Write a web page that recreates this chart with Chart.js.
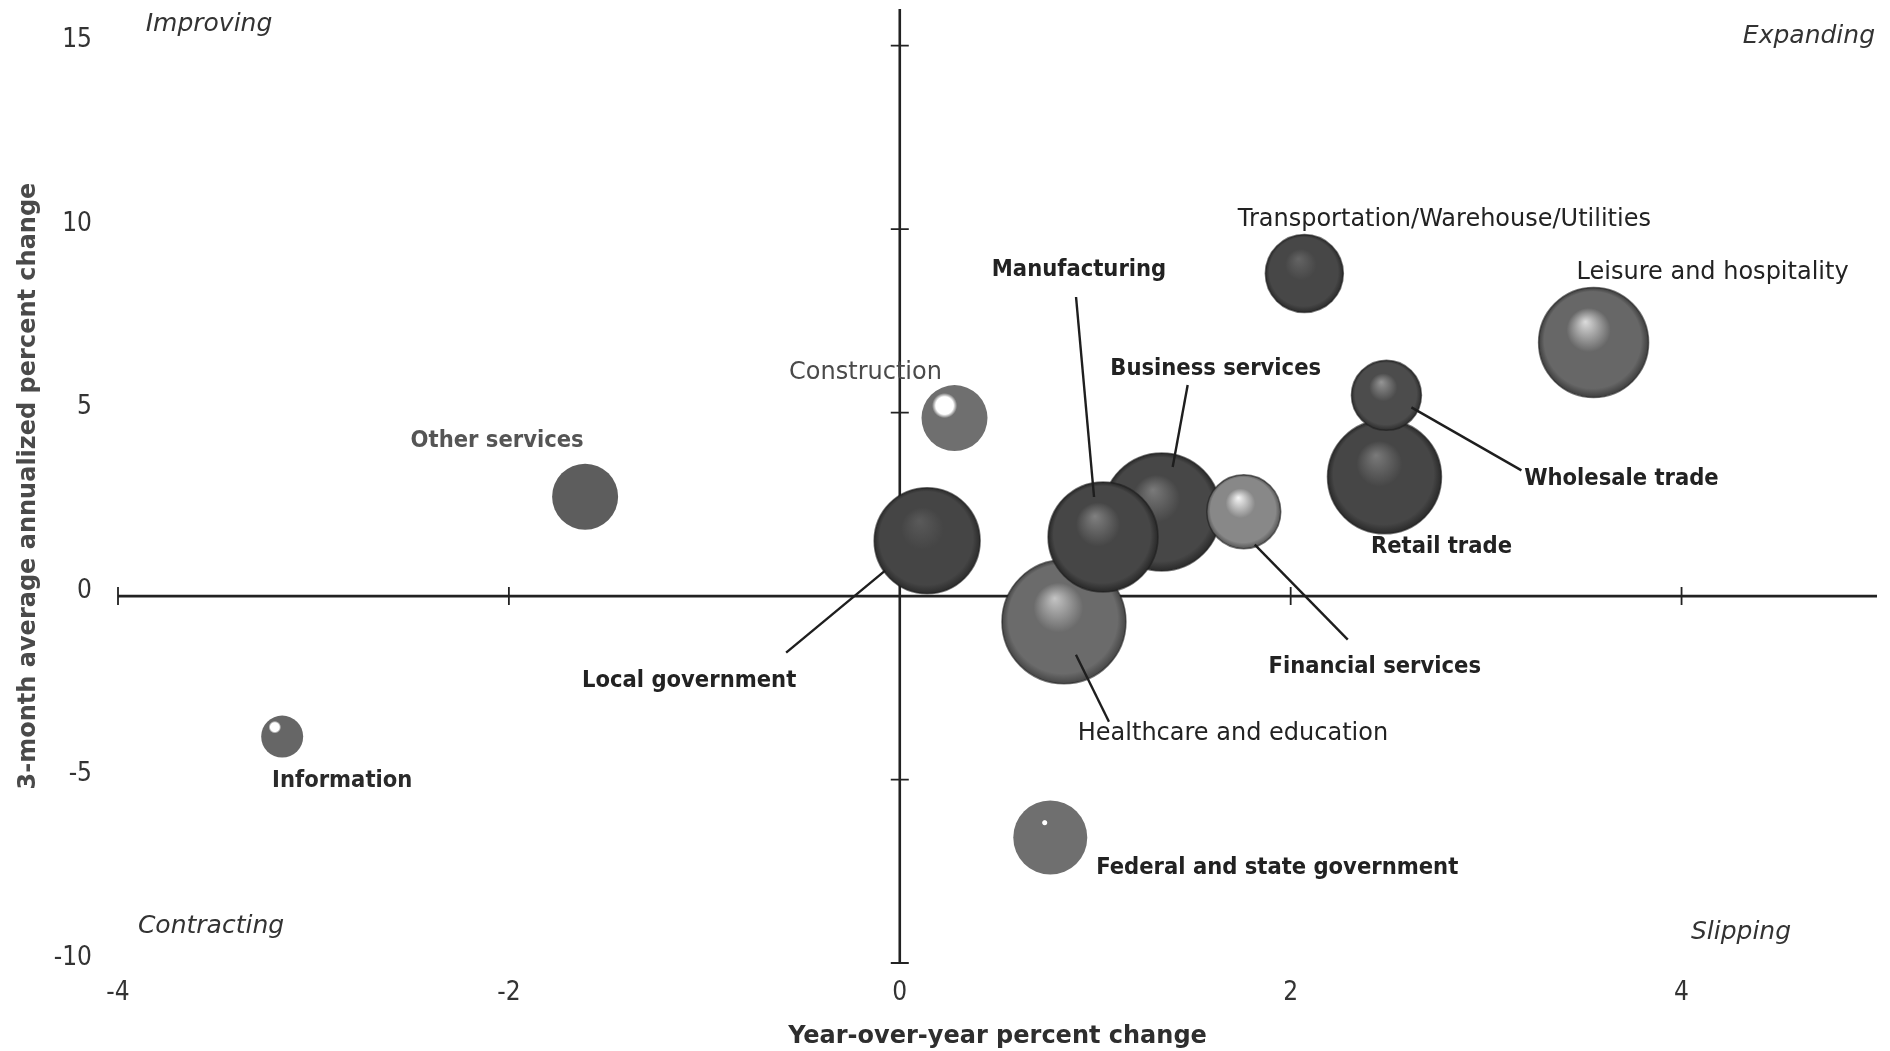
<!DOCTYPE html>
<html>
<head>
<meta charset="utf-8">
<title>Employment growth by sector</title>
<script src="https://cdn.jsdelivr.net/npm/chart.js@4.4.1/dist/chart.umd.min.js"></script>
<style>
  html, body { margin: 0; padding: 0; background: #ffffff; }
  #wrap { width: 1890px; height: 1051px; position: relative; }
</style>
</head>
<body>
<div id="wrap"><canvas id="chart" width="1890" height="1051"></canvas></div>
<script>
// Sector employment: year-over-year change (x) against 3-month average annualized change (y).
// Drawing order matters: later sectors are painted on top of earlier ones.
const sectors = [
  'Information',
  'Other services',
  'Construction',
  'Local government',
  'Transportation/Warehouse/Utilities',
  'Leisure and hospitality',
  'Retail trade',
  'Wholesale trade',
  'Healthcare and education',
  'Business services',
  'Manufacturing',
  'Financial services',
  'Federal and state government'
];
const yoyChange        = [-3.16, -1.61, 0.28, 0.14, 2.07, 3.55, 2.48, 2.49, 0.84, 1.34, 1.04, 1.76, 0.77];
const threeMonthChange = [-3.83,  2.71, 4.85, 1.51, 8.79, 6.91, 3.25, 5.47, -0.70, 2.29, 1.61, 2.30, -6.58];
const bubbleSize       = [21, 33, 33, 53, 39, 55, 57, 35, 62, 59, 55, 37, 37];

const xTickValues = [-4, -2, 0, 2, 4];
const yTickValues = [-10, -5, 0, 5, 10, 15];
const quadrantNames = ['Improving', 'Expanding', 'Contracting', 'Slipping'];

const xTitle = 'Year-over-year percent change';
const yTitle = '3-month average annualized percent change';

// ---- presentation -------------------------------------------------------
const FONT_NARROW = "'DejaVu Sans Condensed', 'DejaVu Sans', sans-serif";
const FONT_WIDE = "'DejaVu Sans', sans-serif";

// sphere shading per sector; flat = plain disc with an optional glint [dx, dy, size] in radii
const shading = {
  'Information':                        { flat: true, body: '#666666', glint: [-0.35, -0.45, 0.30] },
  'Other services':                     { flat: true, body: '#5d5d5d', glint: null },
  'Construction':                       { flat: true, body: '#6f6f6f', glint: [-0.30, -0.38, 0.38] },
  'Federal and state government':       { flat: true, body: '#6f6f6f', glint: [-0.15, -0.40, 0.08] },
  'Local government':                   { hi: '#5a5a5a', body: '#454545', rim: '#2c2c2c' },
  'Transportation/Warehouse/Utilities': { hi: '#646464', body: '#474747', rim: '#2c2c2c' },
  'Leisure and hospitality':            { hi: '#dcdcdc', body: '#676767', rim: '#3e3e3e' },
  'Retail trade':                       { hi: '#7a7a7a', body: '#464646', rim: '#2a2a2a' },
  'Wholesale trade':                    { hi: '#959595', body: '#4c4c4c', rim: '#2e2e2e' },
  'Healthcare and education':           { hi: '#c4c4c4', body: '#6b6b6b', rim: '#464646' },
  'Business services':                  { hi: '#7a7a7a', body: '#474747', rim: '#2a2a2a' },
  'Manufacturing':                      { hi: '#808080', body: '#464646', rim: '#282828' },
  'Financial services':                 { hi: '#f6f6f6', body: '#888888', rim: '#555555' }
};

// label placement in pixels from the bubble centre; leader = [x1, y1, x2, y2] from the centre
const labelLayout = {
  'Information':                        { dx:  60, dy:  44, bold: true,  color: '#2a2a2a' },
  'Other services':                     { dx: -88, dy: -56, bold: true,  color: '#555555' },
  'Construction':                       { dx: -89, dy: -45, bold: false, color: '#4a4a4a' },
  'Local government':                   { dx: -238, dy: 140, bold: true, color: '#222222', leader: [-141, 112, -42, 30] },
  'Transportation/Warehouse/Utilities': { dx: 140, dy: -54, bold: false, color: '#222222' },
  'Leisure and hospitality':            { dx: 119, dy: -70, bold: false, color: '#222222' },
  'Retail trade':                       { dx:  57, dy:  70, bold: true,  color: '#222222' },
  'Wholesale trade':                    { dx: 235, dy:  84, bold: true,  color: '#222222', leader: [135, 75, 25, 12] },
  'Healthcare and education':           { dx: 169, dy: 112, bold: false, color: '#222222', leader: [45, 100, 12, 33] },
  'Business services':                  { dx:  54, dy: -143, bold: true, color: '#222222', leader: [26, -127, 11, -45] },
  'Manufacturing':                      { dx: -24, dy: -267, bold: true, color: '#222222', leader: [-27, -240, -9, -40] },
  'Financial services':                 { dx: 131, dy: 155, bold: true,  color: '#222222', leader: [104, 128, 11, 33] },
  'Federal and state government':       { dx: 227, dy:  30, bold: true,  color: '#222222' }
};

function bubbleFill(context) {
  const chart = context.chart;
  const raw = context.raw;
  if (!raw || !chart.chartArea || !chart.scales.x) return '#484848';
  const cx = chart.scales.x.getPixelForValue(raw.x);
  const cy = chart.scales.y.getPixelForValue(raw.y);
  const r = raw.r;
  const s = shading[raw.name];
  const ctx = chart.ctx;
  if (s.flat) {
    if (!s.glint) return s.body;
    const gx = cx + s.glint[0] * r, gy = cy + s.glint[1] * r, gr = s.glint[2] * r;
    const g = ctx.createRadialGradient(gx, gy, 0, gx, gy, r * 2);
    const k = gr / (r * 2);
    g.addColorStop(0, '#ffffff');
    g.addColorStop(k * 0.7, '#ffffff');
    g.addColorStop(k, s.body);
    g.addColorStop(1, s.body);
    return g;
  }
  const hx = cx - 0.15 * r, hy = cy - 0.38 * r;
  const g = ctx.createRadialGradient(hx, hy, 0, cx, cy, r);
  g.addColorStop(0, s.hi);
  g.addColorStop(0.4, s.body);
  g.addColorStop(0.88, s.body);
  g.addColorStop(1, s.rim);
  return g;
}

function bubbleEdge(context) {
  const raw = context.raw;
  if (!raw) return 'rgba(0,0,0,0)';
  return shading[raw.name].flat ? 'rgba(0,0,0,0)' : 'rgba(30,30,30,0.6)';
}

// zero axes with cross ticks, leader lines, sector and quadrant labels
const annotations = {
  id: 'sectorAnnotations',
  beforeDatasetsDraw(chart) {
    const { ctx, scales: { x, y } } = chart;
    const x0 = x.getPixelForValue(0);
    const y0 = y.getPixelForValue(0);
    const yBottom = y.getPixelForValue(yTickValues[0]);
    ctx.save();
    ctx.strokeStyle = '#222222';
    ctx.lineWidth = 2.6;
    ctx.beginPath();
    ctx.moveTo(x.left, y0); ctx.lineTo(x.right, y0);
    ctx.moveTo(x0, y.top); ctx.lineTo(x0, yBottom);
    ctx.stroke();
    ctx.lineWidth = 1.8;
    ctx.beginPath();
    xTickValues.forEach(v => {
      if (v === 0) return;
      const px = x.getPixelForValue(v);
      ctx.moveTo(px, y0 - 9); ctx.lineTo(px, y0 + 9);
    });
    yTickValues.forEach(v => {
      if (v === 0) return;
      const py = y.getPixelForValue(v);
      ctx.moveTo(x0 - 9, py); ctx.lineTo(x0 + 9, py);
    });
    ctx.stroke();
    ctx.restore();
  },
  afterDatasetsDraw(chart) {
    const { ctx, chartArea: area } = chart;
    const meta = chart.getDatasetMeta(0);
    ctx.save();
    // leader lines
    ctx.strokeStyle = '#1e1e1e';
    ctx.lineWidth = 2.4;
    meta.data.forEach((pt, i) => {
      const lay = labelLayout[sectors[i]];
      if (!lay.leader) return;
      const [a, b, c, d] = lay.leader;
      ctx.beginPath();
      ctx.moveTo(pt.x + a, pt.y + b);
      ctx.lineTo(pt.x + c, pt.y + d);
      ctx.stroke();
    });
    // sector names
    ctx.textAlign = 'center';
    ctx.textBaseline = 'middle';
    meta.data.forEach((pt, i) => {
      const lay = labelLayout[sectors[i]];
      ctx.font = lay.bold ? `bold 23.5px ${FONT_NARROW}` : `normal 24px ${FONT_WIDE}`;
      ctx.fillStyle = lay.color;
      ctx.fillText(sectors[i], pt.x + lay.dx, pt.y + lay.dy);
    });
    // quadrant names
    ctx.font = `italic 25px ${FONT_WIDE}`;
    ctx.fillStyle = '#333333';
    ctx.textAlign = 'center';
    ctx.fillText(quadrantNames[0], area.left + 91, area.top + 15);
    ctx.textAlign = 'right';
    ctx.fillText(quadrantNames[1], area.right - 2, area.top + 27);
    ctx.textAlign = 'center';
    ctx.fillText(quadrantNames[2], area.left + 93, area.bottom - 37);
    ctx.fillText(quadrantNames[3], area.right - 136, area.bottom - 31);
    ctx.restore();
  }
};

const points = sectors.map((name, i) => ({
  x: yoyChange[i],
  y: threeMonthChange[i],
  r: bubbleSize[i],
  name
}));

new Chart(document.getElementById('chart'), {
  type: 'bubble',
  data: {
    datasets: [{
      label: 'Sectors',
      data: points,
      backgroundColor: bubbleFill,
      borderColor: bubbleEdge,
      borderWidth: 1.5,
      hoverBorderWidth: 1.5,
      clip: false
    }]
  },
  options: {
    responsive: false,
    devicePixelRatio: 1,
    animation: false,
    events: [],
    layout: { autoPadding: false, padding: { top: 9, right: 13, bottom: 0, left: 0 } },
    plugins: { legend: { display: false }, tooltip: { enabled: false } },
    scales: {
      x: {
        type: 'linear',
        min: -4,
        max: 5,
        position: 'bottom',
        grid: { display: false, drawTicks: false },
        border: { display: false },
        afterBuildTicks: s => { s.ticks = xTickValues.map(v => ({ value: v })); },
        afterFit: s => { s.height = 88; s.paddingLeft = 0; s.paddingRight = 0; },
        ticks: {
          padding: 15,
          color: '#333333',
          font: { family: FONT_NARROW, size: 26 },
          callback: v => String(v)
        },
        title: {
          display: true,
          text: xTitle,
          color: '#2e2e2e',
          padding: { top: 0, bottom: 0 },
          font: { family: FONT_WIDE, size: 24, weight: 'bold' }
        }
      },
      y: {
        type: 'linear',
        min: -10,
        max: 16,
        position: 'left',
        grid: { display: false, drawTicks: false },
        border: { display: false },
        afterBuildTicks: s => { s.ticks = yTickValues.map(v => ({ value: v })); },
        afterFit: s => { s.width = 118; s.paddingTop = 0; s.paddingBottom = 0; },
        ticks: {
          padding: 26,
          labelOffset: -5,
          color: '#333333',
          font: { family: FONT_NARROW, size: 26 },
          callback: v => String(v)
        },
        title: {
          display: true,
          text: yTitle,
          color: '#4a4a4a',
          padding: { top: 14, bottom: 0 },
          font: { family: FONT_WIDE, size: 24, weight: 'bold' }
        }
      }
    }
  },
  plugins: [annotations]
});
</script>
</body>
</html>
